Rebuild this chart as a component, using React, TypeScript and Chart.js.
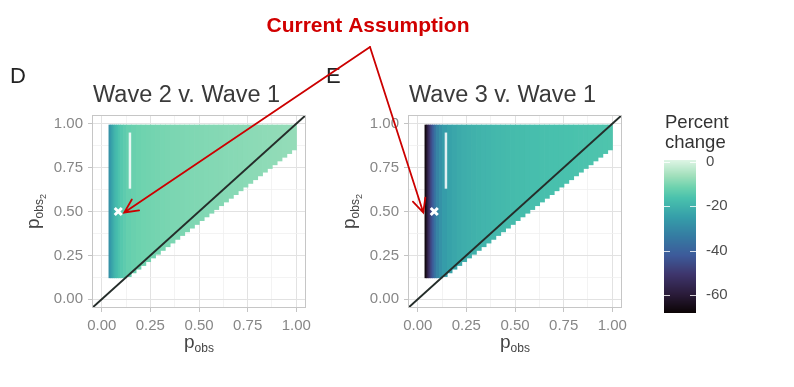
import React, { useEffect, useRef } from 'react';
import { Chart, registerables } from 'chart.js';

Chart.register(...registerables);

const FONT = '"Liberation Sans", Arial, Helvetica, sans-serif';

// ---- axis ticks ----
const TICK_VALUES = [0, 0.125, 0.25, 0.375, 0.5, 0.625, 0.75, 0.875, 1];
const TICK_LABELS = ['0.00', '', '0.25', '', '0.50', '', '0.75', '', '1.00'];
const AXIS_MIN = -0.05;
const AXIS_MAX = 1.05;

// ---- heat map cells (columns of p_obs) ----
const CELL_LEFT = [0.035, 0.045, 0.055, 0.065, 0.075, 0.085, 0.095, 0.11, 0.125, 0.15, 0.175, 0.2, 0.225, 0.25, 0.275, 0.3, 0.325, 0.35, 0.375, 0.4, 0.425, 0.45, 0.475, 0.5, 0.525, 0.55, 0.575, 0.6, 0.625, 0.65, 0.675, 0.7, 0.725, 0.75, 0.775, 0.8, 0.825, 0.85, 0.875, 0.9, 0.925, 0.95, 0.975];
const CELL_RIGHT_END = 1.003;
const CELL_TOP = 0.995;
const CELL_BOTTOM = [0.12, 0.12, 0.12, 0.12, 0.12, 0.12, 0.12, 0.12, 0.127, 0.148, 0.169, 0.19, 0.212, 0.233, 0.254, 0.276, 0.297, 0.318, 0.339, 0.361, 0.382, 0.403, 0.424, 0.446, 0.467, 0.488, 0.509, 0.531, 0.552, 0.573, 0.594, 0.616, 0.637, 0.658, 0.679, 0.701, 0.722, 0.743, 0.764, 0.786, 0.807, 0.828, 0.849];
const CHANGE_WAVE2 = [-28, -24, -21, -18.5, -17, -15.5, -14.5, -13.5, -12.5, -12, -11.5, -11.2, -11, -10.8, -10.6, -10.4, -10.2, -10, -9.9, -9.8, -9.7, -9.6, -9.5, -9.4, -9.3, -9.2, -9.1, -9, -8.9, -8.8, -8.7, -8.6, -8.5, -8.4, -8.3, -8.2, -8.1, -8, -7.9, -7.8, -7.7, -7.6, -7.5];
const CHANGE_WAVE3 = [-66, -58, -51, -45, -40, -35, -31, -28, -25.5, -24, -23, -22, -21.3, -20.8, -20.3, -19.9, -19.5, -19.2, -18.9, -18.6, -18.3, -18.1, -17.9, -17.7, -17.5, -17.3, -17.1, -17, -16.9, -16.8, -16.7, -16.6, -16.5, -16.4, -16.3, -16.2, -16.1, -16, -15.9, -15.8, -15.7, -15.6, -15.5];

// ---- lines & markers ----
const DIAG_X = [-0.05, 1.05];
const DIAG_Y = [-0.05, 1.05];
const RANGE_X = [0.145, 0.145];
const RANGE_Y = [0.63, 0.95];
const ASSUMPTION_X = [0.085];
const ASSUMPTION_Y = [0.5];

// ---- legend ----
const LEGEND_TICKS = [-60, -40, -20, 0];
const LEGEND_MIN = -68.1;
const LEGEND_MAX = 0.9;

// ---- texts ----
const PANEL_TITLES = ['Wave 2 v. Wave 1', 'Wave 3 v. Wave 1'];
const PANEL_LETTERS = ['D', 'E'];
const LEGEND_TITLE = ['Percent', 'change'];
const ANNOTATION = 'Current Assumption';

// mako palette
const MAKO: [number, string][] = [
  [0, '#0B0405'], [0.125, '#2B1C3B'], [0.25, '#3E356B'], [0.375, '#3D5A9A'], [0.5, '#357BA2'],
  [0.625, '#359EA9'], [0.75, '#49C1AD'], [0.82, '#6CD2AE'], [0.9, '#A3E0BC'], [1, '#DEF5E5'],
];

function hexRgb(h: string) {
  return [parseInt(h.slice(1, 3), 16), parseInt(h.slice(3, 5), 16), parseInt(h.slice(5, 7), 16)];
}
function colorFor(v: number) {
  let t = (v - LEGEND_MIN) / (LEGEND_MAX - LEGEND_MIN);
  t = Math.max(0, Math.min(1, t));
  for (let i = 0; i < MAKO.length - 1; i++) {
    const [t0, c0] = MAKO[i];
    const [t1, c1] = MAKO[i + 1];
    if (t <= t1) {
      const f = (t - t0) / (t1 - t0);
      const a = hexRgb(c0), b = hexRgb(c1);
      return `rgb(${Math.round(a[0] + (b[0] - a[0]) * f)},${Math.round(a[1] + (b[1] - a[1]) * f)},${Math.round(a[2] + (b[2] - a[2]) * f)})`;
    }
  }
  return MAKO[MAKO.length - 1][1];
}

type Part = { text: string; size: number; dy: number };
function drawRich(ctx: CanvasRenderingContext2D, parts: Part[], cx: number, y: number, color: string) {
  let total = 0;
  const widths = parts.map((p) => {
    ctx.font = `${p.size}px ${FONT}`;
    const w = ctx.measureText(p.text).width;
    total += w;
    return w;
  });
  let x = cx - total / 2;
  ctx.fillStyle = color;
  ctx.textAlign = 'left';
  ctx.textBaseline = 'alphabetic';
  parts.forEach((p, i) => {
    ctx.font = `${p.size}px ${FONT}`;
    ctx.fillText(p.text, x, y + p.dy);
    x += widths[i];
  });
}

const X_TITLE: Part[] = [{ text: 'p', size: 19, dy: 0 }, { text: 'obs', size: 12, dy: 4 }];
const Y_TITLE: Part[] = [{ text: 'p', size: 19, dy: 0 }, { text: 'obs', size: 12, dy: 4 }, { text: '2', size: 9, dy: 7 }];

const isMajor = (v: number) => TICK_VALUES.indexOf(v) >= 0 && TICK_LABELS[TICK_VALUES.indexOf(v)] !== '';

function axisOptions(isX: boolean) {
  return {
    type: 'linear',
    min: AXIS_MIN,
    max: AXIS_MAX,
    afterBuildTicks: (s: any) => { s.ticks = TICK_VALUES.map((v) => ({ value: v })); },
    afterFit: (s: any) => { if (isX) s.height = 79; else s.width = 92; },
    ticks: {
      autoSkip: false,
      maxRotation: 0,
      minRotation: 0,
      padding: 5,
      color: '#878787',
      font: { family: FONT, size: 15 },
      callback: (v: number) => TICK_LABELS[TICK_VALUES.indexOf(v)] ?? '',
    },
    grid: {
      color: (c: any) => (c.tick && isMajor(c.tick.value) ? '#e2e2e2' : '#f0f0f0'),
      lineWidth: (c: any) => (c.tick && isMajor(c.tick.value) ? 1 : 0.8),
      tickLength: 4,
      tickColor: (c: any) => (c.tick && isMajor(c.tick.value) ? '#c4c4c4' : 'rgba(0,0,0,0)'),
    },
    border: { display: false },
  };
}

function makePanel(canvas: HTMLCanvasElement, idx: number, values: number[]) {
  const heatmap = {
    id: 'heatmap' + idx,
    beforeDatasetsDraw(chart: any) {
      const { ctx, chartArea, scales } = chart;
      const x = scales.x, y = scales.y;
      ctx.save();
      ctx.beginPath();
      ctx.rect(chartArea.left, chartArea.top, chartArea.right - chartArea.left, chartArea.bottom - chartArea.top);
      ctx.clip();
      const yTop = y.getPixelForValue(CELL_TOP);
      for (let i = 0; i < CELL_LEFT.length; i++) {
        const x0 = x.getPixelForValue(CELL_LEFT[i]);
        const x1 = x.getPixelForValue(i + 1 < CELL_LEFT.length ? CELL_LEFT[i + 1] : CELL_RIGHT_END);
        const y1 = y.getPixelForValue(CELL_BOTTOM[i]);
        ctx.fillStyle = colorFor(values[i]);
        ctx.fillRect(x0, yTop, x1 - x0 + (i + 1 < CELL_LEFT.length ? 0.7 : 0), y1 - yTop);
      }
      ctx.restore();
    },
    afterDraw(chart: any) {
      const { ctx, chartArea } = chart;
      ctx.save();
      ctx.strokeStyle = '#c6c6c6';
      ctx.lineWidth = 1;
      ctx.strokeRect(chartArea.left + 0.5, chartArea.top + 0.5, chartArea.right - chartArea.left - 1, chartArea.bottom - chartArea.top - 1);
      ctx.fillStyle = '#3a3a3a';
      ctx.font = `23.5px ${FONT}`;
      ctx.textAlign = 'left';
      ctx.textBaseline = 'alphabetic';
      ctx.fillText(PANEL_TITLES[idx], chartArea.left + 1, chartArea.top - 13);
      ctx.fillStyle = '#222';
      ctx.font = `22px ${FONT}`;
      ctx.fillText(PANEL_LETTERS[idx], chartArea.left - 82, chartArea.top - 32);
      drawRich(ctx, X_TITLE, (chartArea.left + chartArea.right) / 2, chartArea.bottom + 40, '#444');
      ctx.translate(chartArea.left - 53, (chartArea.top + chartArea.bottom) / 2);
      ctx.rotate(-Math.PI / 2);
      drawRich(ctx, Y_TITLE, 0, 0, '#444');
      ctx.restore();
    },
  };

  return new Chart(canvas, {
    type: 'scatter',
    data: {
      datasets: [
        {
          data: ASSUMPTION_X.map((x, i) => ({ x, y: ASSUMPTION_Y[i] })),
          pointStyle: 'crossRot',
          pointRadius: 5,
          borderColor: '#ffffff',
          backgroundColor: '#ffffff',
          borderWidth: 3,
          order: 0,
        },
        {
          data: RANGE_X.map((x, i) => ({ x, y: RANGE_Y[i] })),
          showLine: true,
          borderColor: 'rgba(255,255,255,0.85)',
          borderWidth: 2.5,
          pointRadius: 0,
          order: 1,
        },
        {
          data: DIAG_X.map((x, i) => ({ x, y: DIAG_Y[i] })),
          showLine: true,
          borderColor: '#252d2a',
          borderWidth: 2,
          pointRadius: 0,
          order: 2,
        },
      ],
    } as any,
    options: {
      animation: false,
      responsive: false,
      events: [],
      layout: { padding: { left: 0, top: 115, right: 12, bottom: 0 } },
      plugins: { legend: { display: false }, tooltip: { enabled: false }, title: { display: false } },
      scales: { x: axisOptions(true), y: axisOptions(false) } as any,
    },
    plugins: [heatmap],
  });
}

function makeLegend(canvas: HTMLCanvasElement) {
  const bar = {
    id: 'colorbar',
    beforeDatasetsDraw(chart: any) {
      const { ctx, chartArea, scales } = chart;
      const y = scales.y;
      ctx.save();
      for (let py = Math.floor(chartArea.top); py < chartArea.bottom; py++) {
        ctx.fillStyle = colorFor(y.getValueForPixel(py + 0.5));
        ctx.fillRect(chartArea.left, py, chartArea.right - chartArea.left, 1);
      }
      ctx.strokeStyle = 'rgba(255,255,255,0.8)';
      ctx.lineWidth = 1;
      LEGEND_TICKS.forEach((t) => {
        const py = Math.round(y.getPixelForValue(t)) + 0.5;
        ctx.beginPath();
        ctx.moveTo(chartArea.left, py);
        ctx.lineTo(chartArea.left + 6, py);
        ctx.moveTo(chartArea.right - 6, py);
        ctx.lineTo(chartArea.right, py);
        ctx.stroke();
      });
      ctx.fillStyle = '#333';
      ctx.font = `18.5px ${FONT}`;
      ctx.textAlign = 'left';
      ctx.textBaseline = 'alphabetic';
      ctx.fillText(LEGEND_TITLE[0], chartArea.left + 1, 128);
      ctx.fillText(LEGEND_TITLE[1], chartArea.left + 1, 148);
      ctx.restore();
    },
  };
  return new Chart(canvas, {
    type: 'scatter',
    data: { datasets: [] },
    options: {
      animation: false,
      responsive: false,
      events: [],
      layout: { padding: { left: 24, top: 160, right: 0, bottom: 74 } },
      plugins: { legend: { display: false }, tooltip: { enabled: false } },
      scales: {
        x: { display: false },
        y: {
          position: 'right',
          min: LEGEND_MIN,
          max: LEGEND_MAX,
          afterBuildTicks: (s: any) => { s.ticks = LEGEND_TICKS.map((v) => ({ value: v })); },
          afterFit: (s: any) => { s.width = 98; },
          ticks: { padding: 10, color: '#4d4d4d', font: { family: FONT, size: 15 }, callback: (v: number) => String(v) },
          grid: { drawOnChartArea: false, drawTicks: false },
          border: { display: false },
        },
      } as any,
    },
    plugins: [bar],
  });
}

const OFFSETS = [0, 316, 640];

function drawOverlay(canvas: HTMLCanvasElement, panels: Chart[]) {
  const ctx = canvas.getContext('2d')!;
  ctx.clearRect(0, 0, canvas.width, canvas.height);
  ctx.fillStyle = '#d10000';
  ctx.font = `bold 21px ${FONT}`;
  ctx.textAlign = 'center';
  ctx.textBaseline = 'alphabetic';
  ctx.fillText(ANNOTATION, 368, 32);
  const apex = { x: 370, y: 47 };
  const tipShift = [6, -11];
  ctx.strokeStyle = '#cc0000';
  ctx.lineWidth = 1.8;
  ctx.lineCap = 'round';
  panels.forEach((chart, i) => {
    const sx: any = chart.scales.x, sy: any = chart.scales.y;
    const tx = OFFSETS[i] + sx.getPixelForValue(ASSUMPTION_X[0]) + tipShift[i];
    const ty = sy.getPixelForValue(ASSUMPTION_Y[0]) + 1;
    const ang = Math.atan2(ty - apex.y, tx - apex.x);
    const L = 15, spread = 0.45;
    ctx.beginPath();
    ctx.moveTo(apex.x, apex.y);
    ctx.lineTo(tx, ty);
    ctx.moveTo(tx - L * Math.cos(ang - spread), ty - L * Math.sin(ang - spread));
    ctx.lineTo(tx, ty);
    ctx.lineTo(tx - L * Math.cos(ang + spread), ty - L * Math.sin(ang + spread));
    ctx.stroke();
  });
}

export default function App() {
  const dRef = useRef<HTMLCanvasElement>(null);
  const eRef = useRef<HTMLCanvasElement>(null);
  const lRef = useRef<HTMLCanvasElement>(null);
  const oRef = useRef<HTMLCanvasElement>(null);

  useEffect(() => {
    const d = makePanel(dRef.current!, 0, CHANGE_WAVE2);
    const e = makePanel(eRef.current!, 1, CHANGE_WAVE3);
    const l = makeLegend(lRef.current!);
    drawOverlay(oRef.current!, [d, e]);
    return () => {
      d.destroy();
      e.destroy();
      l.destroy();
    };
  }, []);

  return (
    <div style={{ position: 'absolute', left: 0, top: 0, width: 794, height: 387, background: '#fff', overflow: 'hidden' }}>
      <canvas ref={dRef} width={318} height={387} style={{ position: 'absolute', left: OFFSETS[0], top: 0 }} />
      <canvas ref={eRef} width={318} height={387} style={{ position: 'absolute', left: OFFSETS[1], top: 0 }} />
      <canvas ref={lRef} width={154} height={387} style={{ position: 'absolute', left: OFFSETS[2], top: 0 }} />
      <canvas ref={oRef} width={794} height={387} style={{ position: 'absolute', left: 0, top: 0, pointerEvents: 'none' }} />
    </div>
  );
}
